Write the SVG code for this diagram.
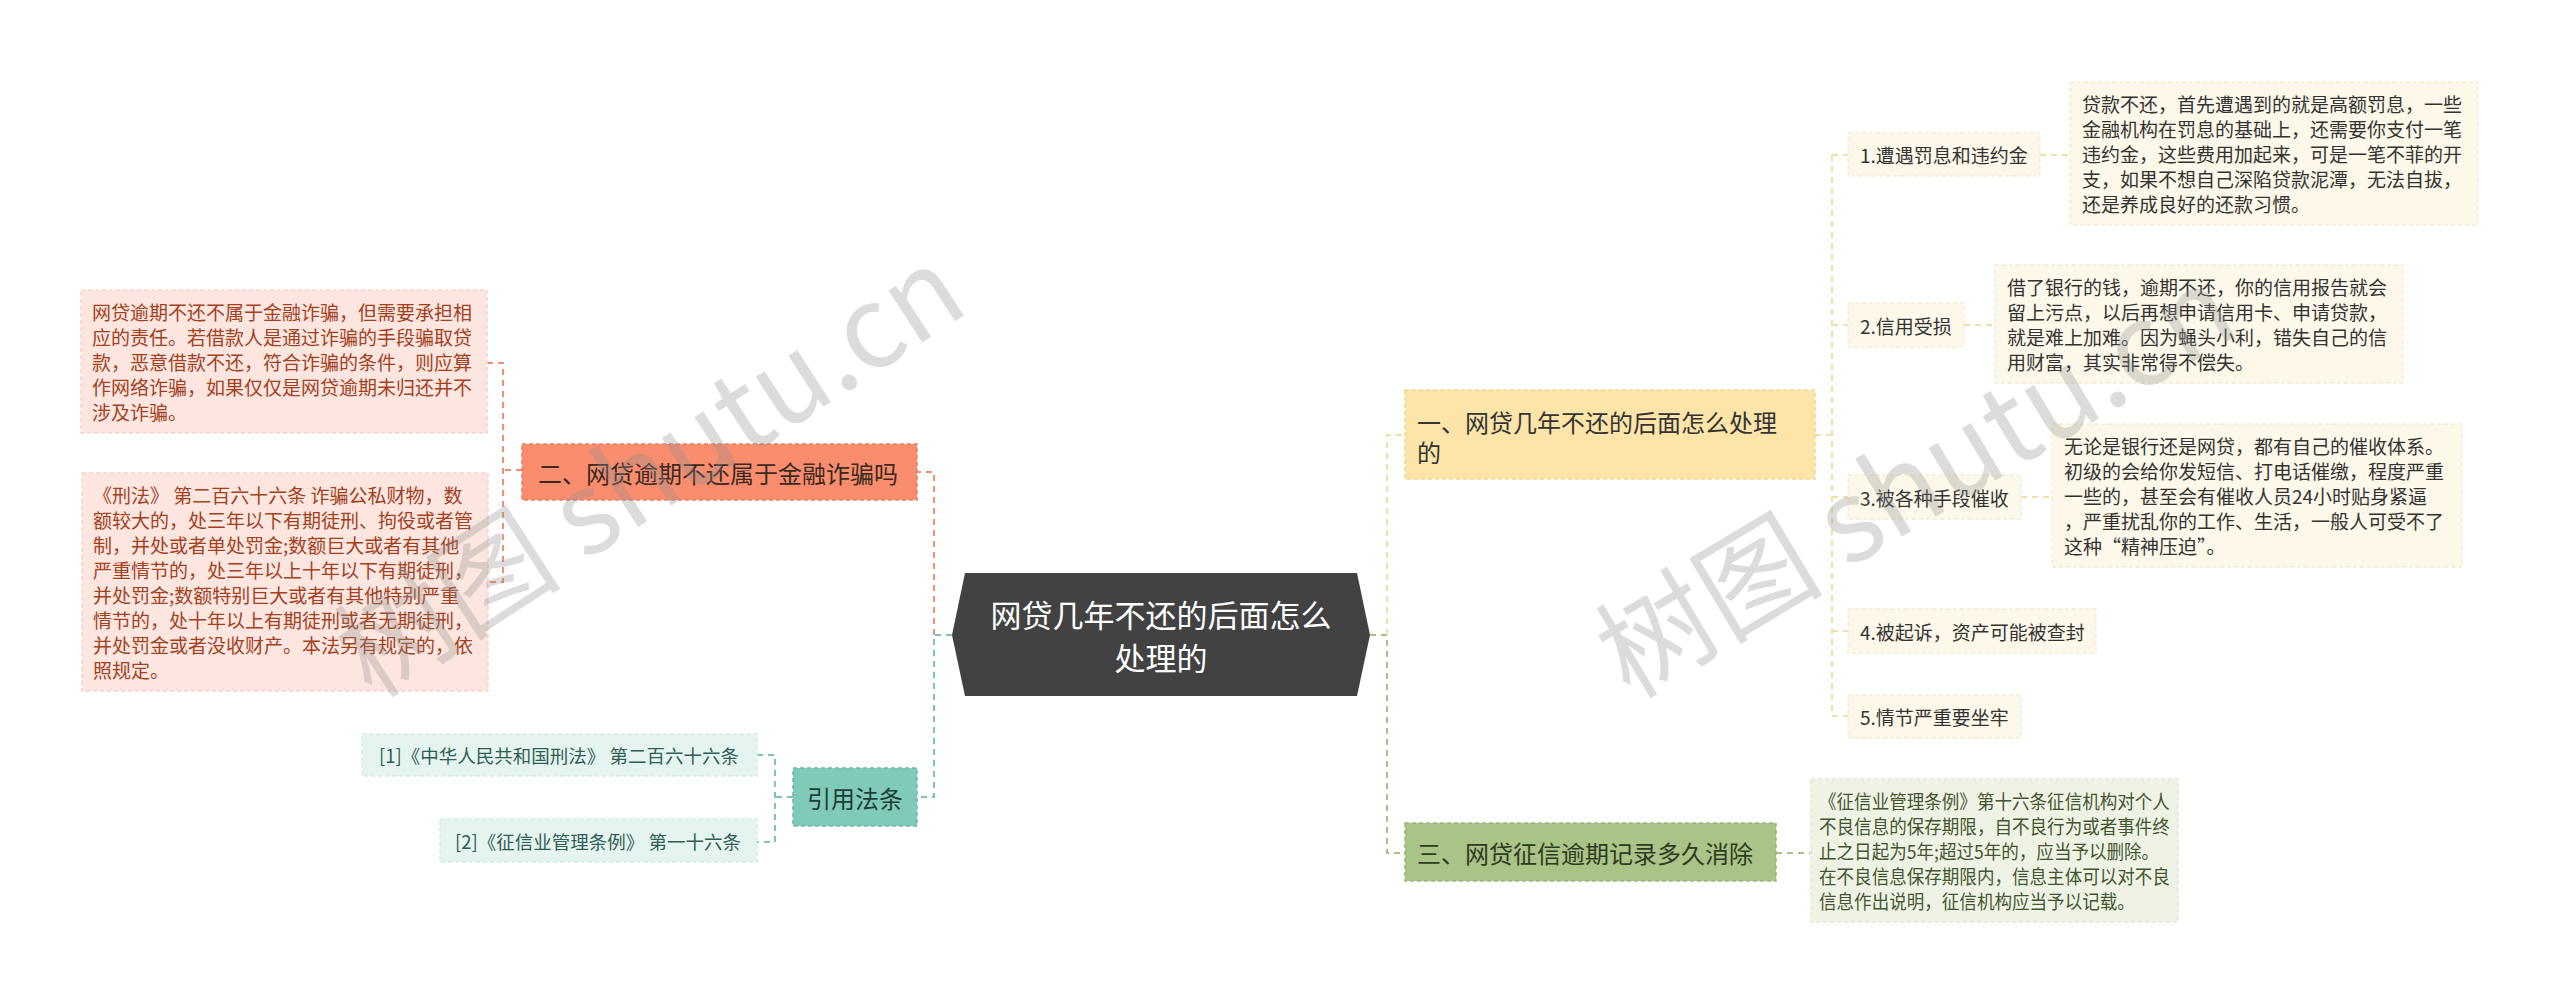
<svg xmlns="http://www.w3.org/2000/svg" width="2560" height="1005" viewBox="0 0 2560 1005">
<style>
text{font-family:"Noto Sans CJK SC","Microsoft YaHei",sans-serif;dominant-baseline:central}
.c{fill:none;stroke-width:2;stroke-dasharray:6 5}
.or{stroke:#F0906F}.te{stroke:#7CC5B5}.ye{stroke:#F3DFA6}.gr{stroke:#A7C283}.pk{stroke:#EDA995}
.t19{font-size:19px}
.pinkbox{fill:#FCE6DF;stroke:#F6D3C8;stroke-width:1.5;stroke-dasharray:4 3}
.pinktx{fill:#A3411F}
.cream{fill:#FDF8E9;stroke:#F5EDD3;stroke-width:1.5;stroke-dasharray:4 3}
.dk{fill:#333333}
.wm{font-size:114px;fill:#8f8f8f;opacity:0.3;dominant-baseline:auto}
</style>
<rect width="2560" height="1005" fill="#ffffff"/>
<g id="connectors">
<path class="c te" d="M952 635H934V797H917"/>
<path class="c or" d="M934 635V472H917"/>
<path class="c or" d="M522 470H503M487 363H503V582H488"/>
<path class="c te" d="M793 797H775M757 755H775V842H757"/>
<path class="c gr" d="M1370 635H1387V853H1405"/>
<path class="c ye" d="M1387 635V435H1405"/>
<path class="c ye" d="M1815 435H1832M1832 155V716M1832 155H1848M1832 325H1848M1832 497H1848M1832 631H1848M1832 716H1848"/>
<path class="c ye" d="M2040 155H2070M1964 325H1995M2021 497H2052"/>
<path class="c gr" d="M1776 853H1811"/>
</g>
<g id="center">
<polygon points="965,573 1357,573 1370,635 1357,696 965,696 952,635" fill="#424242"/>
<text x="1161" y="613" font-size="31" fill="#ffffff" text-anchor="middle">网贷几年不还的后面怎么</text>
<text x="1161" y="656" font-size="31" fill="#ffffff" text-anchor="middle">处理的</text>
</g>
<g id="node-er">
<rect x="522" y="444" width="395" height="56" fill="#F98D6E" stroke="#EC7E5E" stroke-width="1.5" stroke-dasharray="4 3"/>
<text x="538" y="472" font-size="24" fill="#3A2A22">二、网贷逾期不还属于金融诈骗吗</text>
</g>
<g id="box-a">
<rect class="pinkbox" x="81" y="290" width="406" height="143"/>
<g class="t19 pinktx">
<text x="92" y="311.5">网贷逾期不还不属于金融诈骗，但需要承担相</text>
<text x="92" y="336.5">应的责任。若借款人是通过诈骗的手段骗取贷</text>
<text x="92" y="361.5">款，恶意借款不还，符合诈骗的条件，则应算</text>
<text x="92" y="386.5">作网络诈骗，如果仅仅是网贷逾期未归还并不</text>
<text x="92" y="411.5">涉及诈骗。</text>
</g>
</g>
<g id="box-b">
<rect class="pinkbox" x="82" y="473" width="406" height="218"/>
<g class="t19 pinktx">
<text x="93" y="494.5">《刑法》 第二百六十六条 诈骗公私财物，数</text>
<text x="93" y="519.5">额较大的，处三年以下有期徒刑、拘役或者管</text>
<text x="93" y="544.5">制，并处或者单处罚金;数额巨大或者有其他</text>
<text x="93" y="569.5">严重情节的，处三年以上十年以下有期徒刑，</text>
<text x="93" y="594.5">并处罚金;数额特别巨大或者有其他特别严重</text>
<text x="93" y="619.5">情节的，处十年以上有期徒刑或者无期徒刑，</text>
<text x="93" y="644.5">并处罚金或者没收财产。本法另有规定的，依</text>
<text x="93" y="669.5">照规定。</text>
</g>
</g>
<g id="node-yinyong">
<rect x="793" y="768" width="124" height="58" fill="#7FCAB9" stroke="#6DB9A8" stroke-width="1.5" stroke-dasharray="4 3"/>
<text x="855" y="797" font-size="24" fill="#1F3D37" text-anchor="middle">引用法条</text>
</g>
<g id="cite-1">
<rect x="362" y="734" width="395" height="42" fill="#E6F4F0" stroke="#D3ECE5" stroke-width="1.5" stroke-dasharray="4 3"/>
<text x="559" y="755" font-size="18.5" fill="#2F5E55" text-anchor="middle">[1]《中华人民共和国刑法》 第二百六十六条</text>
</g>
<g id="cite-2">
<rect x="440" y="819" width="317" height="43" fill="#E6F4F0" stroke="#D3ECE5" stroke-width="1.5" stroke-dasharray="4 3"/>
<text x="598" y="841" font-size="18.5" fill="#2F5E55" text-anchor="middle">[2]《征信业管理条例》 第一十六条</text>
</g>
<g id="node-yi">
<rect x="1405" y="390" width="410" height="89" fill="#FDE4A8" stroke="#F5D690" stroke-width="1.5" stroke-dasharray="4 3"/>
<text x="1417" y="421" font-size="24" fill="#333333">一、网贷几年不还的后面怎么处理</text>
<text x="1417" y="451" font-size="24" fill="#333333">的</text>
</g>
<g id="item-1">
<rect class="cream" x="1848" y="133" width="192" height="43"/>
<text class="t19 dk" x="1860" y="154.5">1.遭遇罚息和违约金</text>
</g>
<g id="text-1">
<rect class="cream" x="2070" y="82" width="408" height="143"/>
<g class="t19 dk">
<text x="2082" y="103.5">贷款不还，首先遭遇到的就是高额罚息，一些</text>
<text x="2082" y="128.5">金融机构在罚息的基础上，还需要你支付一笔</text>
<text x="2082" y="153.5">违约金，这些费用加起来，可是一笔不菲的开</text>
<text x="2082" y="178.5">支，如果不想自己深陷贷款泥潭，无法自拔，</text>
<text x="2082" y="203.5">还是养成良好的还款习惯。</text>
</g>
</g>
<g id="item-2">
<rect class="cream" x="1848" y="303" width="116" height="44"/>
<text class="t19 dk" x="1860" y="325">2.信用受损</text>
</g>
<g id="text-2">
<rect class="cream" x="1995" y="265" width="408" height="118"/>
<g class="t19 dk">
<text x="2007" y="286.5">借了银行的钱，逾期不还，你的信用报告就会</text>
<text x="2007" y="311.5">留上污点，以后再想申请信用卡、申请贷款，</text>
<text x="2007" y="336.5">就是难上加难。因为蝇头小利，错失自己的信</text>
<text x="2007" y="361.5">用财富，其实非常得不偿失。</text>
</g>
</g>
<g id="item-3">
<rect class="cream" x="1848" y="475" width="173" height="44"/>
<text class="t19 dk" x="1860" y="497">3.被各种手段催收</text>
</g>
<g id="text-3">
<rect class="cream" x="2052" y="424" width="410" height="143"/>
<g class="t19 dk">
<text x="2064" y="445.5">无论是银行还是网贷，都有自己的催收体系。</text>
<text x="2064" y="470.5">初级的会给你发短信、打电话催缴，程度严重</text>
<text x="2064" y="495.5">一些的，甚至会有催收人员24小时贴身紧逼</text>
<text x="2064" y="520.5">，严重扰乱你的工作、生活，一般人可受不了</text>
<text x="2064" y="545.5">这种“精神压迫”。</text>
</g>
</g>
<g id="item-4">
<rect class="cream" x="1848" y="609" width="248" height="44"/>
<text class="t19 dk" x="1860" y="631">4.被起诉，资产可能被查封</text>
</g>
<g id="item-5">
<rect class="cream" x="1848" y="695" width="173" height="43"/>
<text class="t19 dk" x="1860" y="716.5">5.情节严重要坐牢</text>
</g>
<g id="node-san">
<rect x="1405" y="823" width="371" height="58" fill="#A9C486" stroke="#98B576" stroke-width="1.5" stroke-dasharray="4 3"/>
<text x="1417" y="852" font-size="24" fill="#2F3A22">三、网贷征信逾期记录多久消除</text>
</g>
<g id="text-san">
<rect x="1811" y="779" width="367" height="143" fill="#EEF3E6" stroke="#E0E9D3" stroke-width="1.5" stroke-dasharray="4 3"/>
<g class="t19" fill="#44562F" transform="translate(1819,0) scale(0.924,1) translate(-1819,0)">
<text x="1819" y="800.5">《征信业管理条例》第十六条征信机构对个人</text>
<text x="1819" y="825.5">不良信息的保存期限，自不良行为或者事件终</text>
<text x="1819" y="850.5">止之日起为5年;超过5年的，应当予以删除。</text>
<text x="1819" y="875.5">在不良信息保存期限内，信息主体可以对不良</text>
<text x="1819" y="900.5">信息作出说明，征信机构应当予以记载。</text>
</g>
</g>
<g id="watermarks">
<text class="wm" transform="translate(372,700) rotate(-33)">树图 shutu.cn</text>
<text class="wm" transform="translate(1630,700) rotate(-31)">树图 shutu.cn</text>
</g>
</svg>
